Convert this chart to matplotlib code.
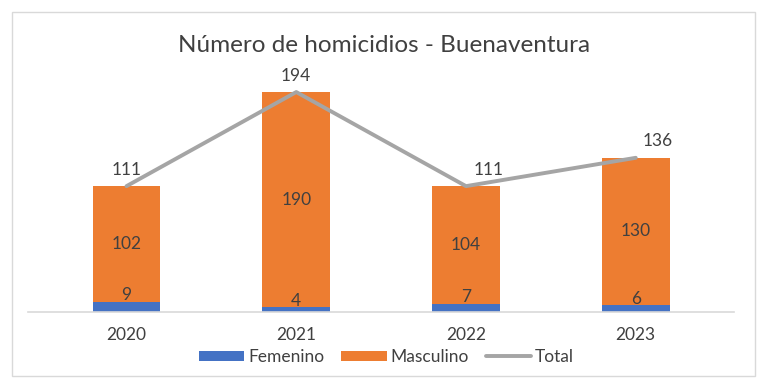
import matplotlib.pyplot as plt
from matplotlib.patches import Rectangle

years = ["2020", "2021", "2022", "2023"]
femenino = [9, 4, 7, 6]
masculino = [102, 190, 104, 130]
total = [111, 194, 111, 136]

BLUE = "#4472C4"
ORANGE = "#ED7D31"
GRAY = "#A5A5A5"
TEXT = "#404040"

plt.rcParams["font.family"] = ["Lato", "DejaVu Sans"]

fig = plt.figure(figsize=(7.68, 3.87), dpi=100)
ax = fig.add_axes([0.0365, 0.1938, 0.9195, 0.6252])

x = list(range(len(years)))
h_fem = ax.bar(x, femenino, width=0.4, color=BLUE, label="Femenino", zorder=2)
h_mas = ax.bar(x, masculino, width=0.4, bottom=femenino, color=ORANGE,
               label="Masculino", zorder=2)
(h_tot,) = ax.plot(x, total, color=GRAY, linewidth=2.8, label="Total",
                   zorder=3, solid_capstyle="round")

for i in x:
    ax.annotate(str(femenino[i]), (i, femenino[i]), xytext=(0, -1),
                textcoords="offset points", ha="center", va="bottom",
                fontsize=12.5, color=TEXT, zorder=4)
    ax.text(i, femenino[i] + masculino[i] / 2, str(masculino[i]),
            ha="center", va="center", fontsize=12.5, color=TEXT, zorder=4)

# Excel nudges the last two total labels to the right
total_dx = [0, 0, 16, 16]
for i in x:
    ax.annotate(str(total[i]), (i, total[i]), xytext=(total_dx[i], 6),
                textcoords="offset points", ha="center", va="bottom",
                fontsize=12.5, color=TEXT, zorder=4)

ax.set_xlim(-0.58, 3.58)
ax.set_ylim(0, 213.4)
ax.set_xticks(x)
ax.set_xticklabels(years, fontsize=12.5, color=TEXT)
ax.tick_params(axis="x", length=0, pad=11)
ax.set_yticks([])
for side in ["left", "right", "top"]:
    ax.spines[side].set_visible(False)
ax.spines["bottom"].set_color("#D9D9D9")
ax.spines["bottom"].set_linewidth(1.2)

fig.text(0.5, 1 - 46 / 387, "Número de homicidios - Buenaventura",
         ha="center", va="center", fontsize=17.5, color=TEXT)

fig.legend([h_fem, h_mas, h_tot], ["Femenino", "Masculino", "Total"],
           loc="center", bbox_to_anchor=(0.503, 1 - 357 / 387), ncol=3,
           frameon=False, fontsize=12.5, handlelength=2.6, handleheight=0.55,
           columnspacing=1.0, handletextpad=0.2, labelcolor=TEXT)

fig.patches.append(Rectangle((12 / 768, 11 / 387), 743 / 768, 364 / 387,
                             transform=fig.transFigure, fill=False,
                             edgecolor="#D9D9D9", linewidth=1.0))

fig.savefig("out.png", dpi=100)
